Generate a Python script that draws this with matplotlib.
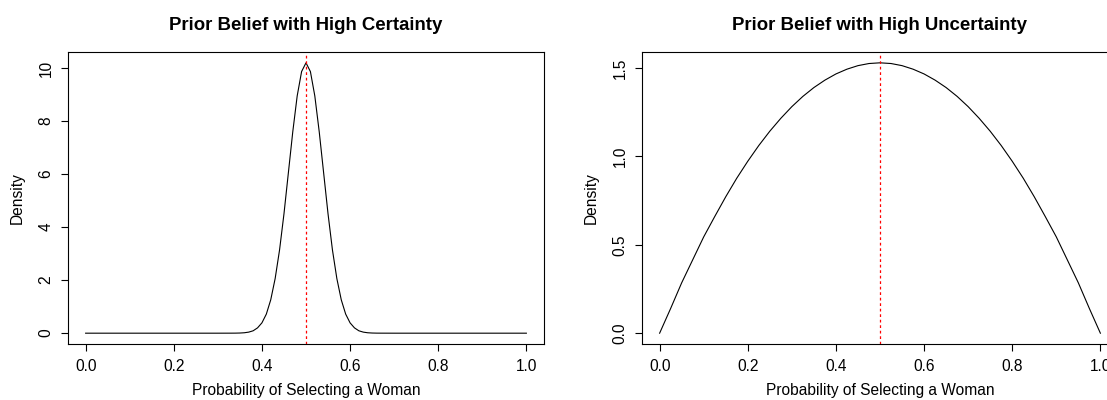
import matplotlib
matplotlib.use("Agg")
import matplotlib.pyplot as plt

# ---------------------------------------------------------------
# data (density curves of the two priors)
# ---------------------------------------------------------------
certain_x = [0.0, 0.1, 0.2, 0.3, 0.33, 0.34, 0.35, 0.36, 0.37, 0.38, 0.39,
             0.40, 0.41, 0.42, 0.43, 0.44, 0.45, 0.46, 0.47, 0.48, 0.49,
             0.50, 0.51, 0.52, 0.53, 0.54, 0.55, 0.56, 0.57, 0.58, 0.59,
             0.60, 0.61, 0.62, 0.63, 0.64, 0.65, 0.66, 0.67, 0.7, 0.8, 0.9, 1.0]
certain_y = [0.0, 0.0, 0.0, 0.0, 0.001, 0.002, 0.006, 0.016, 0.04, 0.09, 0.20,
             0.39, 0.72, 1.26, 2.06, 3.14, 4.50, 6.05, 7.60, 8.95, 9.87,
             10.20, 9.87, 8.95, 7.60, 6.05, 4.50, 3.14, 2.06, 1.26, 0.72,
             0.39, 0.20, 0.09, 0.04, 0.016, 0.006, 0.002, 0.001, 0.0, 0.0, 0.0, 0.0]

uncertain_x = [0.0, 0.025, 0.05, 0.075, 0.1, 0.125, 0.15, 0.175, 0.2, 0.225,
               0.25, 0.275, 0.3, 0.325, 0.35, 0.375, 0.4, 0.425, 0.45, 0.475,
               0.5, 0.525, 0.55, 0.575, 0.6, 0.625, 0.65, 0.675, 0.7, 0.725,
               0.75, 0.775, 0.8, 0.825, 0.85, 0.875, 0.9, 0.925, 0.95, 0.975, 1.0]
uncertain_y = [0.0, 0.14, 0.285, 0.415, 0.545, 0.66, 0.772, 0.877, 0.973, 1.062,
               1.143, 1.216, 1.282, 1.34, 1.39, 1.432, 1.467, 1.494, 1.514, 1.526,
               1.53, 1.526, 1.514, 1.494, 1.467, 1.432, 1.39, 1.34, 1.282, 1.216,
               1.143, 1.062, 0.973, 0.877, 0.772, 0.66, 0.545, 0.415, 0.285, 0.14, 0.0]

prior_mean = 0.5

titles = ["Prior Belief with High Certainty", "Prior Belief with High Uncertainty"]
x_label = "Probability of Selecting a Woman"
y_label = "Density"
x_ticks = [0.0, 0.2, 0.4, 0.6, 0.8, 1.0]
y_ticks_certain = [0, 2, 4, 6, 8, 10]
y_ticks_uncertain = [0.0, 0.5, 1.0, 1.5]

# ---------------------------------------------------------------
plt.rcParams['font.family'] = ['Liberation Sans', 'DejaVu Sans']

W, H = 1107, 400
fig = plt.figure(figsize=(W / 100, H / 100), dpi=100)

panels = [
    (68, certain_x, certain_y, y_ticks_certain, lambda v: "%d" % v),
    (642, uncertain_x, uncertain_y, y_ticks_uncertain, lambda v: "%.1f" % v),
]

for (left_px, xs, ys, yt, fmt), title in zip(panels, titles):
    ax = fig.add_axes([left_px / W, (H - 344) / H, 476 / W, 292 / H])
    ax.plot(xs, ys, color="black", lw=0.8)
    ax.axvline(prior_mean, color="red", lw=0.9, linestyle=(0, (2.2, 2.2)))

    ymax = max(ys)
    ax.set_xlim(-0.04, 1.04)
    ax.set_ylim(-0.04 * ymax, 1.04 * ymax)

    ax.set_xticks(x_ticks)
    ax.set_xticklabels(["%.1f" % v for v in x_ticks])
    ax.set_yticks(yt)
    ax.set_yticklabels([fmt(v) for v in yt], rotation=90, va="center")
    ax.tick_params(direction="out", length=5, width=0.8, labelsize=11.2,
                   pad=5.5, color="black")

    for s in ax.spines.values():
        s.set_linewidth(0.8)
        s.set_color("black")

    ax.set_xlabel(x_label, fontsize=11.2, labelpad=7)
    ax.set_ylabel(y_label, fontsize=11.2, labelpad=10)

    cx = (left_px + 238) / W
    fig.text(cx, 1 - 25 / H, title, ha="center", va="center",
             fontsize=13.4, fontweight="bold")

fig.savefig("out.png", dpi=100)
